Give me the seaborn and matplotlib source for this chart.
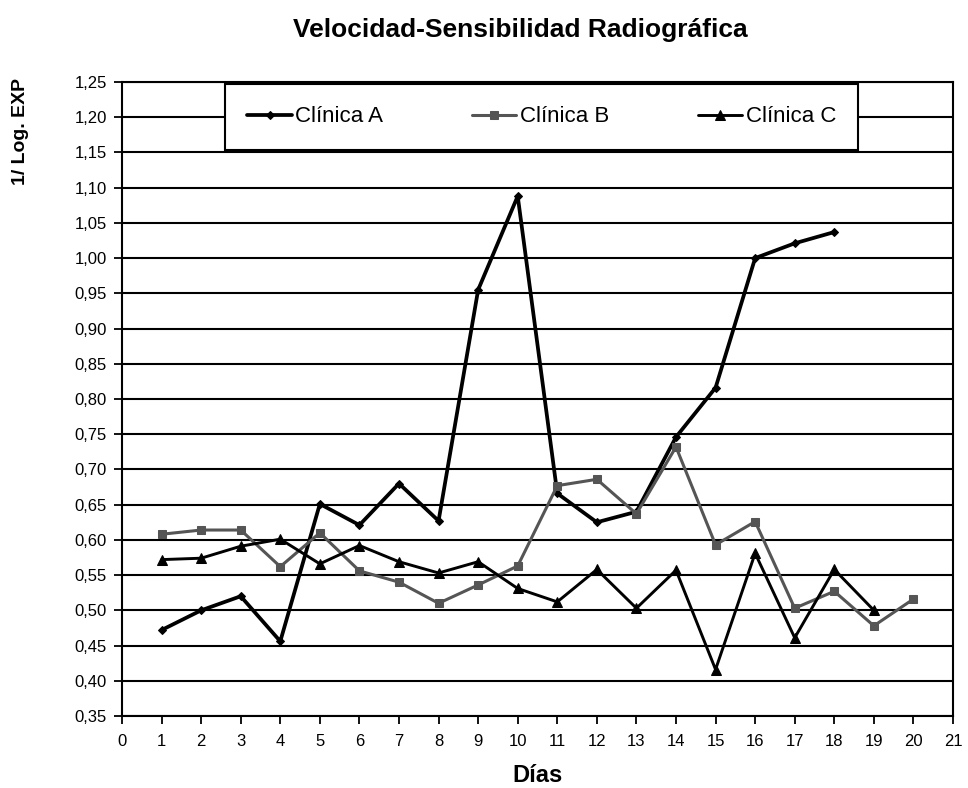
import seaborn as sns
import matplotlib.pyplot as plt
import pandas as pd
from matplotlib.ticker import MultipleLocator, FuncFormatter

# values
dias_a = list(range(1, 19))
clinica_a = [0.472, 0.500, 0.520, 0.456, 0.651, 0.621, 0.680, 0.627, 0.955, 1.088,
             0.666, 0.625, 0.640, 0.746, 0.816, 1.000, 1.021, 1.037]
dias_b = list(range(1, 21))
clinica_b = [0.608, 0.614, 0.614, 0.562, 0.610, 0.556, 0.540, 0.510, 0.536, 0.563,
             0.677, 0.686, 0.637, 0.732, 0.593, 0.626, 0.503, 0.527, 0.478, 0.516]
dias_c = list(range(1, 20))
clinica_c = [0.572, 0.574, 0.591, 0.601, 0.566, 0.592, 0.569, 0.553, 0.569, 0.531,
             0.512, 0.558, 0.503, 0.557, 0.416, 0.581, 0.461, 0.558, 0.500]

df = pd.concat([
    pd.DataFrame({'dia': dias_a, 'valor': clinica_a, 'serie': 'Clínica A'}),
    pd.DataFrame({'dia': dias_b, 'valor': clinica_b, 'serie': 'Clínica B'}),
    pd.DataFrame({'dia': dias_c, 'valor': clinica_c, 'serie': 'Clínica C'}),
])

sns.set_style("white")
plt.rcParams['font.family'] = ['Liberation Sans', 'DejaVu Sans']
plt.rcParams['text.color'] = 'black'
plt.rcParams['axes.labelcolor'] = 'black'
plt.rcParams['xtick.color'] = 'black'
plt.rcParams['ytick.color'] = 'black'

fig = plt.figure(figsize=(9.68, 7.88), dpi=100)
ax = fig.add_axes([122 / 968, 72 / 788, 831 / 968, 634 / 788])

estilos = {
    'Clínica A': dict(color='black', marker='D', markersize=4, linewidth=2.7),
    'Clínica B': dict(color='#555555', marker='s', markersize=6, linewidth=2.2),
    'Clínica C': dict(color='black', marker='^', markersize=7, linewidth=2.1),
}
for serie, sub in df.groupby('serie', sort=False):
    st = estilos[serie]
    sns.lineplot(data=sub, x='dia', y='valor', ax=ax, label=serie,
                 color=st['color'], marker=st['marker'], markersize=st['markersize'],
                 linewidth=st['linewidth'], markeredgecolor=st['color'])

ax.set_xlim(0, 21)
ax.set_ylim(0.35, 1.25)
ax.xaxis.set_major_locator(MultipleLocator(1))
ax.yaxis.set_major_locator(MultipleLocator(0.05))
ax.yaxis.set_major_formatter(FuncFormatter(lambda v, p: f"{v:.2f}".replace('.', ',')))
ax.yaxis.grid(True, color='black', linewidth=1.5)
ax.xaxis.grid(False)
ax.set_axisbelow(True)
for s in ax.spines.values():
    s.set_color('black')
    s.set_linewidth(1.5)
ax.tick_params(axis='both', direction='out', length=6, width=1.3, color='black',
               labelsize=12, bottom=True, left=True)
ax.tick_params(axis='x', pad=7)
ax.tick_params(axis='y', pad=5)

ax.set_xlabel('Días', fontsize=17, fontweight='bold', labelpad=11)
ax.set_ylabel('1/ Log. EXP', fontsize=14, fontweight='bold')
ax.yaxis.set_label_coords(-0.112, 0.922)
fig.suptitle('Velocidad-Sensibilidad Radiográfica', fontsize=19, fontweight='bold',
             x=0.537, y=0.977)

leg = ax.legend(loc='center', bbox_to_anchor=(0.505, 0.945), ncol=3,
                frameon=True, fancybox=False, framealpha=1, edgecolor='black',
                fontsize=16, handlelength=2.0, handletextpad=0.15, columnspacing=4.0,
                borderpad=1.0, borderaxespad=0)
leg.get_frame().set_linewidth(1.5)
leg.set_zorder(5)

fig.savefig('out.png', dpi=100)
